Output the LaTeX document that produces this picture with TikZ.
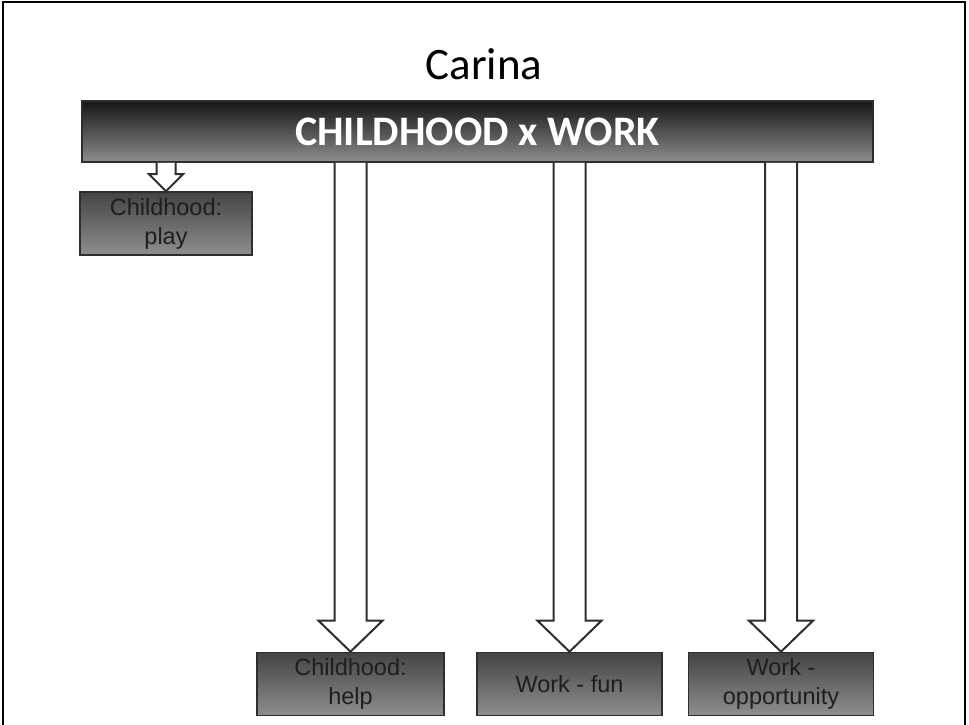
\documentclass[tikz,border=0pt]{standalone}
\usepackage{fontspec}
\setmainfont{Liberation Sans}
\newfontfamily\calibri{Carlito}
\usetikzlibrary{calc}
\definecolor{bartop}{HTML}{151515}
\definecolor{barmid}{HTML}{585858}
\definecolor{barbot}{HTML}{8E8E8E}
\definecolor{boxtop}{HTML}{444444}
\definecolor{boxbot}{HTML}{8E8E8E}
\definecolor{edge}{HTML}{2E2E2E}
\definecolor{txt}{HTML}{1E1E1E}
\tikzset{
  barbox/.style={draw=edge, line width=1.5pt, inner sep=0pt, top color=bartop, middle color=barmid, bottom color=barbot,
    minimum width=791pt, minimum height=61pt, text=white, font=\calibri\bfseries\fontsize{42}{46}\selectfont},
  leafbox/.style={draw=edge, line width=1.6pt, inner sep=0pt, top color=boxtop, bottom color=boxbot,
    minimum height=63pt, text=txt, align=center, font=\fontsize{23.5}{29}\selectfont},
  blockarrow/.style={draw=edge, line width=2pt, fill=white, line join=miter}
}
\begin{document}
\begin{tikzpicture}[x=1pt,y=-1pt]
\useasboundingbox (0,0) rectangle (969,725);
% frame (no bottom line)
\draw[line width=2.5pt] (3,725) -- (3,2) -- (965,2) -- (965,725);
\node[font=\calibri\fontsize{45}{50}\selectfont] (title) at (484,64) {Carina};
\node[barbox] (bar) at (477.5,131.5) {CHILDHOOD x WORK};
\node[leafbox, minimum width=172pt] (b1) at (166,223.5) {Childhood:\\play};
\node[leafbox, minimum width=187pt] (b2) at (350.5,684) {Childhood:\\help};
\node[leafbox, minimum width=185pt] (b3) at (569.5,684) {Work - fun};
\node[leafbox, minimum width=185pt] (b4) at (781,684) {Work -\\opportunity};
% small block arrow
\draw[blockarrow]
  ($(b1.north |- bar.south)+(-9.5pt,0)$) --
  ($(b1.north)+(-9.5pt,17pt)$) --
  ($(b1.north)+(-17pt,17pt)$) --
  (b1.north) --
  ($(b1.north)+(17pt,17pt)$) --
  ($(b1.north)+(9.5pt,17pt)$) --
  ($(b1.north |- bar.south)+(9.5pt,0)$);
% large block arrows
\foreach \b in {b2,b3,b4}{
  \draw[blockarrow]
    ($(\b.north |- bar.south)+(-16pt,0)$) --
    ($(\b.north)+(-16pt,31pt)$) --
    ($(\b.north)+(-32pt,31pt)$) --
    (\b.north) --
    ($(\b.north)+(32pt,31pt)$) --
    ($(\b.north)+(16pt,31pt)$) --
    ($(\b.north |- bar.south)+(16pt,0)$);
}
\end{tikzpicture}
\end{document}
